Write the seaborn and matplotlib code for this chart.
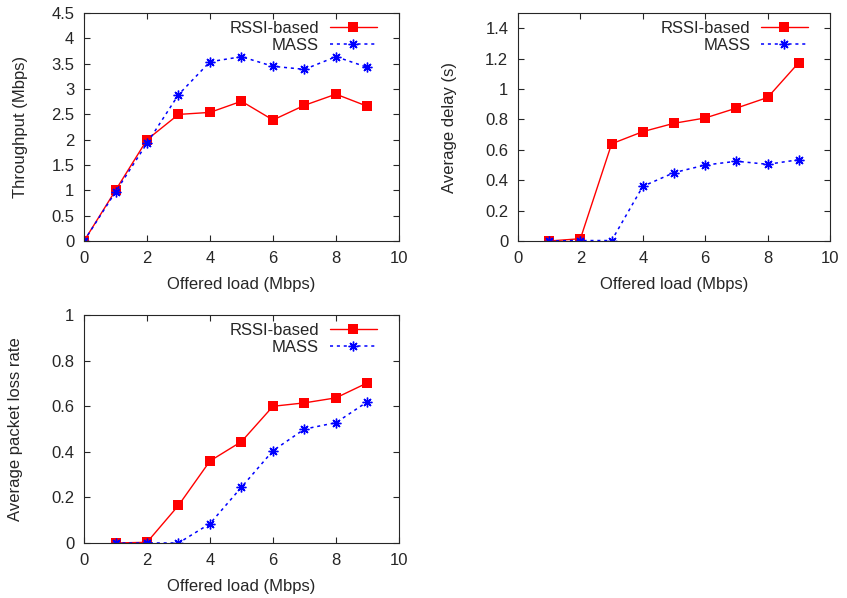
import matplotlib
matplotlib.use('Agg')
import matplotlib.pyplot as plt
import seaborn as sns
import pandas as pd

# --- data ---
load_tp = [0, 1, 2, 3, 4, 5, 6, 7, 8, 9]
tp_rssi = [0, 1.00, 2.00, 2.50, 2.54, 2.76, 2.39, 2.68, 2.90, 2.66]
tp_mass = [0, 0.97, 1.93, 2.89, 3.54, 3.64, 3.45, 3.39, 3.64, 3.43]

load = [1, 2, 3, 4, 5, 6, 7, 8, 9]
delay_rssi = [0, 0.015, 0.64, 0.72, 0.775, 0.81, 0.875, 0.945, 1.175]
delay_mass = [0, 0.003, 0.003, 0.36, 0.45, 0.50, 0.525, 0.505, 0.535]

loss_rssi = [0, 0.003, 0.165, 0.36, 0.445, 0.60, 0.615, 0.637, 0.703]
loss_mass = [0, 0, 0, 0.085, 0.245, 0.405, 0.50, 0.528, 0.62]

series_names = ["RSSI-based", "MASS"]

sns.set_style("ticks")
plt.rcParams['font.family'] = ['Liberation Sans', 'DejaVu Sans']
plt.rcParams['font.size'] = 12

fig = plt.figure(figsize=(8.47, 5.98), dpi=100)
ax1 = fig.add_axes([0.0992, 0.597, 0.3718, 0.381])
ax2 = fig.add_axes([0.6116, 0.597, 0.3684, 0.381])
ax3 = fig.add_axes([0.0992, 0.092, 0.3718, 0.381])


def draw(ax, x, rssi, mass, ylim, yticks, ylabel, ylabelpad):
    df = pd.DataFrame({"x": x + x,
                       "y": rssi + mass,
                       "s": [series_names[0]] * len(x) + [series_names[1]] * len(x)})
    sns.lineplot(data=df[df.s == series_names[0]], x="x", y="y", ax=ax,
                 color="#ff0000", lw=1.0, marker="s", markersize=7,
                 markeredgewidth=0, label=series_names[0])
    sns.lineplot(data=df[df.s == series_names[1]], x="x", y="y", ax=ax,
                 color="#0000ff", lw=1.1, linestyle=(0, (2, 2.5)),
                 marker=(8, 2, 0), markersize=7, markeredgewidth=1.0,
                 markeredgecolor="#0000ff", label=series_names[1])
    ax.set_xlim(0, 10)
    ax.set_ylim(*ylim)
    ax.set_xticks([0, 2, 4, 6, 8, 10])
    ax.set_yticks(yticks)
    ax.set_yticklabels([f"{t:g}" for t in yticks])
    ax.set_xlabel("Offered load (Mbps)", fontsize=12, labelpad=8)
    ax.set_ylabel(ylabel, fontsize=12, labelpad=ylabelpad)
    ax.tick_params(direction="in", top=True, right=True, length=4,
                   labelsize=12, width=0.8, pad=7)
    for sp in ax.spines.values():
        sp.set_visible(True)
        sp.set_linewidth(0.8)
    leg = ax.legend(loc="upper right", bbox_to_anchor=(0.95, 0.995),
                    borderaxespad=0, frameon=False, markerfirst=False,
                    fontsize=12, handlelength=2.8,
                    labelspacing=0.1, handletextpad=0.65)
    for t in leg.get_texts():
        t.set_ha("right")


draw(ax1, load_tp, tp_rssi, tp_mass, (0, 4.5),
     [0, 0.5, 1, 1.5, 2, 2.5, 3, 3.5, 4, 4.5], "Throughput (Mbps)", 17)
draw(ax2, load, delay_rssi, delay_mass, (0, 1.5),
     [0, 0.2, 0.4, 0.6, 0.8, 1, 1.2, 1.4], "Average delay (s)", 20)
draw(ax3, load, loss_rssi, loss_mass, (0, 1),
     [0, 0.2, 0.4, 0.6, 0.8, 1], "Average packet loss rate", 20)

fig.savefig("out.png", dpi=100)
